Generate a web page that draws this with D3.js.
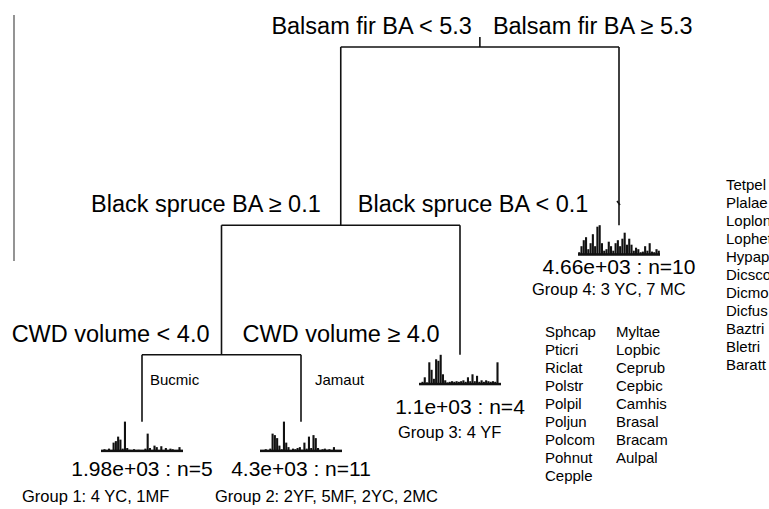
<!DOCTYPE html>
<html>
<head>
<meta charset="utf-8">
<script src="https://cdn.jsdelivr.net/npm/d3@7"></script>
<style>
  html, body { margin: 0; padding: 0; background: #fff; }
  svg { display: block; font-family: 'Liberation Sans', Arial, sans-serif; }
</style>
</head>
<body>
<svg id="chart" width="769" height="509"></svg>
<script>
// split labels, one pair per split (left branch, right branch)
var splitLeft  = ['Balsam fir BA < 5.3', 'Black spruce BA \u2265 0.1', 'CWD volume < 4.0'];
var splitRight = ['Balsam fir BA \u2265 5.3', 'Black spruce BA < 0.1', 'CWD volume \u2265 4.0'];
// relative error level of each split (0 = root)
var splitLevel = [0, 0.44, 0.76];
// children of each split: 's' = split index, 'l' = leaf index
var splitKids = [[['s',1],['l',3]], [['s',2],['l',2]], [['l',0],['l',1]]];

// leaves
var leafLevel = [0.925, 0.925, 0.76, 0.44];
var leafDev   = ['1.98e+03', '4.3e+03', '1.1e+03', '4.66e+03'];
var leafN     = [5, 11, 4, 10];
var leafGroup = ['Group 1: 4 YC, 1MF', 'Group 2: 2YF, 5MF, 2YC, 2MC', 'Group 3: 4 YF', 'Group 4: 3 YC, 7 MC'];

// species profile bars for each leaf (relative abundance)
var hist1 = [0.05,0.08,0.03,0.1,0.05,0.3,0.35,0.5,0.4,0.1,1.0,0.12,0.06,0.05,0.08,0.05,0.06,0.05,
             0.04,0.1,0.6,0.12,0.05,0.2,0.15,0.05,0.18,0.04,0.12,0.05,0.1,0.08,0.04,0.05,0.15,0.04];
var hist2 = [0.03,0.05,0.08,0.04,0.1,0.6,0.55,0.45,0.2,0.08,1.0,0.3,0.15,0.05,0.1,0.08,0.12,0.15,
             0.06,0.3,0.1,0.5,0.12,0.55,0.45,0.12,0.05,0.08,0.1,0.06,0.08,0.04,0.15,0.05,0.03,0.04];
var hist3 = [0.05,0.1,0.25,0.08,0.75,0.5,0.2,0.85,0.8,1.0,0.35,0.15,0.08,0.1,0.12,0.1,0.12,0.1,
             0.12,0.15,0.1,0.25,0.12,0.35,0.12,0.3,0.1,0.15,0.1,0.15,0.12,0.1,0.12,0.1,0.75,0.05];
var hist4 = [0.1,0.3,0.5,0.6,0.2,0.4,0.7,0.3,0.95,1.0,0.4,0.15,0.2,0.45,0.3,0.15,0.4,0.5,
             0.3,0.55,0.75,0.35,0.55,0.35,0.15,0.25,0.2,0.1,0.12,0.3,0.15,0.4,0.12,0.1,0.2,0.15];
var hists = [hist1, hist2, hist3, hist4];

// indicator species
var indLeaf1 = ['Bucmic'];
var indLeaf2 = ['Jamaut'];
var indCol1 = ['Sphcap','Pticri','Riclat','Polstr','Polpil','Poljun','Polcom','Pohnut','Cepple'];
var indCol2 = ['Myltae','Lopbic','Ceprub','Cepbic','Camhis','Brasal','Bracam','Aulpal'];
var indCol3 = ['Tetpel','Plalae','Loplon','Lophet','Hypaps','Dicsco','Dicmon','Dicfus','Baztri','Bletri','Baratt'];

var svg = d3.select('#chart');

var x = d3.scalePoint().domain(d3.range(leafDev.length)).range([142, 619]);
var y = d3.scaleLinear().domain([0, 1]).range([47, 452]);
var barH = d3.scaleLinear().domain([0, 1]).range([0, 30]);

function nodeX(kid) {
  if (kid[0] == 'l') return x(kid[1]);
  var k = splitKids[kid[1]];
  return (nodeX(k[0]) + nodeX(k[1])) / 2;
}
function nodeY(kid) {
  return kid[0] == 'l' ? y(leafLevel[kid[1]]) : y(splitLevel[kid[1]]);
}

var tree = svg.append('g')
  .attr('stroke', '#111')
  .attr('stroke-width', 1.6)
  .attr('fill', 'none');

// stub above root
var rootX = nodeX(['s', 0]);
tree.append('line')
  .attr('x1', rootX).attr('x2', rootX)
  .attr('y1', y(0) - 10).attr('y2', y(0));

// label gaps from the split point (left, right)
var gapL = [8, 20, 12];
var gapR = [13, 17, 21];

splitKids.forEach(function(kids, i) {
  var yy = y(splitLevel[i]);
  var xl = nodeX(kids[0]), xr = nodeX(kids[1]);
  tree.append('line')
    .attr('x1', xl).attr('x2', xr)
    .attr('y1', yy).attr('y2', yy);
  kids.forEach(function(k) {
    tree.append('line')
      .attr('x1', nodeX(k)).attr('x2', nodeX(k))
      .attr('y1', yy).attr('y2', nodeY(k));
  });
  var sx = nodeX(['s', i]);
  svg.append('text')
    .attr('x', sx - gapL[i]).attr('y', yy - 13)
    .attr('text-anchor', 'end')
    .attr('font-size', 23.5)
    .text(splitLeft[i]);
  svg.append('text')
    .attr('x', sx + gapR[i]).attr('y', yy - 13)
    .attr('font-size', 23.5)
    .text(splitRight[i]);
});

// small mark on the right branch
tree.append('line')
  .attr('x1', x(3) - 2).attr('x2', x(3) + 1)
  .attr('y1', 201).attr('y2', 205);

// gray rule at the left edge
svg.append('line')
  .attr('x1', 14).attr('x2', 14)
  .attr('y1', 15).attr('y2', 261)
  .attr('stroke', '#888')
  .attr('stroke-width', 1.8);

var valueDy = [24, 24, 29, 19];

leafDev.forEach(function(dev, i) {
  var cx = x(i);
  var top = y(leafLevel[i]);
  var base = top + 30;
  var band = d3.scaleBand().domain(d3.range(hists[i].length))
    .range([cx - 41, cx + 41]).padding(0.08);
  var g = svg.append('g');
  g.selectAll('.bar')
    .data(hists[i])
    .enter()
    .append('rect')
    .classed('bar', true)
    .attr('x', function(d, j) { return band(j); })
    .attr('width', band.bandwidth())
    .attr('y', function(d) { return base - barH(d); })
    .attr('height', function(d) { return barH(d); })
    .attr('fill', '#111');
  g.append('rect')
    .attr('x', cx - 41).attr('width', 82)
    .attr('y', base - 2).attr('height', 2.5)
    .attr('fill', '#111');
  svg.append('text')
    .attr('x', cx).attr('y', base + valueDy[i])
    .attr('text-anchor', 'middle')
    .attr('font-size', 21)
    .text(dev + ' : n=' + leafN[i]);
});

// group labels
var groupPos = [[22, 502], [215, 502], [398, 438], [532, 295]];
leafGroup.forEach(function(t, i) {
  svg.append('text')
    .attr('x', groupPos[i][0]).attr('y', groupPos[i][1])
    .attr('font-size', 16.5)
    .text(t);
});

function speciesCol(list, x0, y0) {
  svg.append('g').selectAll('text')
    .data(list)
    .enter()
    .append('text')
    .attr('x', x0)
    .attr('y', function(d, i) { return y0 + i * 18; })
    .attr('font-size', 15)
    .text(function(d) { return d; });
}
speciesCol(indLeaf1, 150, 385);
speciesCol(indLeaf2, 315, 385);
speciesCol(indCol1, 545, 337);
speciesCol(indCol2, 616, 337);
speciesCol(indCol3, 726, 190);
</script>
</body>
</html>
